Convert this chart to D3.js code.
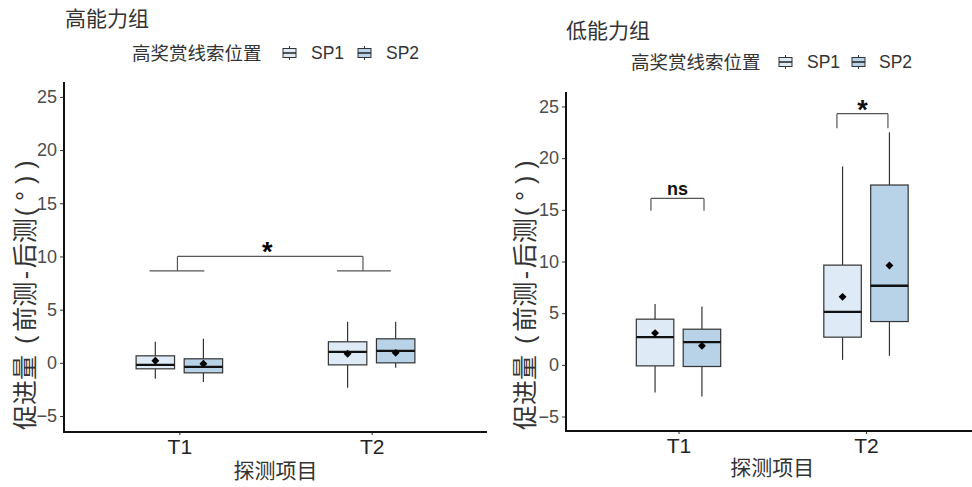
<!DOCTYPE html>
<html>
<head>
<meta charset="utf-8">
<script src="https://cdn.jsdelivr.net/npm/d3@7/dist/d3.min.js"></script>
<style>
  html, body { margin: 0; padding: 0; background: #fff; }
  svg { display: block; }
  .cjk { font-family: "Noto Sans CJK SC", "Noto Sans", sans-serif; }
  .num { font-family: "Liberation Sans", Arial, sans-serif; }
</style>
</head>
<body>
<svg id="chart" width="972" height="487"></svg>
<script>
// Categories
const tests = ["T1", "T2"];
const cues = ["SP1", "SP2"];
const yTicks = [-5, 0, 5, 10, 15, 20, 25];

// Box statistics per test (T1, T2): [lower whisker, Q1, median, Q3, upper whisker, mean]
const highSP1 = [[-1.5, -0.56, -0.19, 0.66, 1.98, 0.19], [-2.35, -0.19, 1.03, 1.98, 3.86, 0.85]];
const highSP2 = [[-1.79, -0.94, -0.38, 0.38, 2.26, -0.09], [-0.47, 0.0, 1.13, 2.26, 3.86, 0.94]];
const lowSP1  = [[-2.68, -0.1, 2.68, 4.42, 5.9, 3.07], [0.48, 2.68, 5.13, 9.65, 19.2, 6.58]];
const lowSP2  = [[-3.07, -0.16, 2.2, 3.45, 5.64, 1.84], [0.87, 4.19, 7.65, 17.4, 22.5, 9.61]];

// Significance annotations (x in test units, y in data units)
// Between-test bracket for the high-ability group: legs sit on short bars under each test
const highBracket = { label: "*", top: 10.0, foot: 8.65,
  bars: [[0.845, 1.13, 0.99], [1.82, 2.10, 1.955]] };
// Within-test brackets for the low-ability group
const lowBrackets = [
  { label: "ns", x0: 0.853, x1: 1.136, top: 16.1, foot: 14.9 },
  { label: "*",  x0: 1.845, x1: 2.117, top: 24.3, foot: 22.9 }
];

// Y-axis title pieces: [text, is CJK, lead offset, letter spacing]
const yTitleParts = [["促进量", true, 0, 0], [" (", false, 0, 4], ["前测", true, 0, 0], ["-", false, 2.5, 2.5],
                     ["后测", true, 0, 0], ["(°))", false, 2, 7]];

const fills = { SP1: "#deebf7", SP2: "#b8d2e8" };
const boxW = 0.2, dodge = 0.125;

const svg = d3.select("#chart");

const panels = [
  { title: "高能力组", titleX: 65, titleY: 26,
    left: 64, right: 487, top: 82, bottom: 432, yDomain: [-6.5, 26.4],
    yTitleX: 25, yTitleY: 430, xTitleY: 478,
    legend: { y: 53, x: [132, 283, 311, 358, 386] },
    series: { SP1: highSP1, SP2: highSP2 } },
  { title: "低能力组", titleX: 566, titleY: 38,
    left: 566, right: 978.5, top: 92, bottom: 431, yDomain: [-6.4, 26.4],
    yTitleX: 525, yTitleY: 430, xTitleY: 475,
    legend: { y: 62, x: [631, 779, 807, 852, 879] },
    series: { SP1: lowSP1, SP2: lowSP2 } }
];

function drawKey(g, x, yc, fill) {
  g.append("line").attr("x1", x + 6.5).attr("x2", x + 6.5)
    .attr("y1", yc - 7).attr("y2", yc + 7).attr("stroke", "#333").attr("stroke-width", 1);
  g.append("rect").attr("x", x).attr("y", yc - 4.5).attr("width", 13).attr("height", 9)
    .attr("fill", fill).attr("stroke", "#333").attr("stroke-width", 1);
  g.append("line").attr("x1", x).attr("x2", x + 13).attr("y1", yc).attr("y2", yc)
    .attr("stroke", "#222").attr("stroke-width", 1.5);
}

panels.forEach((p, pi) => {
  const g = svg.append("g");
  const x = d3.scaleLinear().domain([0.4, 2.6]).range([p.left, p.right]);
  const y = d3.scaleLinear().domain(p.yDomain).range([p.bottom, p.top]);

  // Title
  g.append("text").attr("class", "cjk").attr("x", p.titleX).attr("y", p.titleY)
    .attr("font-size", 21).attr("fill", "#333").text(p.title);

  // Legend
  const L = p.legend;
  g.append("text").attr("class", "cjk").attr("x", L.x[0]).attr("y", L.y)
    .attr("dy", "0.36em").attr("font-size", 18.5).attr("fill", "#333").text("高奖赏线索位置");
  cues.forEach((c, i) => {
    drawKey(g, L.x[1 + i * 2], L.y, fills[c]);
    g.append("text").attr("class", "num").attr("x", L.x[2 + i * 2]).attr("y", L.y)
      .attr("dy", "0.36em").attr("font-size", 17.5).attr("fill", "#333").text(c);
  });

  // Y axis
  const yAxis = d3.axisLeft(y).tickValues(yTicks).tickSize(4).tickPadding(3);
  const ya = g.append("g").attr("transform", `translate(${p.left},0)`).call(yAxis);
  ya.select(".domain").remove();
  ya.selectAll(".tick line").attr("stroke", "#333");
  ya.selectAll(".tick text").attr("class", "num").attr("font-size", 18).attr("fill", "#4d4d4d");

  // X axis
  const xAxis = d3.axisBottom(x).tickValues([1, 2]).tickFormat((d) => tests[d - 1]).tickSize(3).tickPadding(4);
  const xa = g.append("g").attr("transform", `translate(0,${p.bottom})`).call(xAxis);
  xa.select(".domain").remove();
  xa.selectAll(".tick line").attr("stroke", "#333");
  xa.selectAll(".tick text").attr("class", "num").attr("font-size", 21).attr("fill", "#222");

  // Axis lines
  g.append("line").attr("x1", p.left).attr("x2", p.left).attr("y1", p.top).attr("y2", p.bottom + 1)
    .attr("stroke", "#111").attr("stroke-width", 2);
  g.append("line").attr("x1", p.left - 1).attr("x2", p.right).attr("y1", p.bottom).attr("y2", p.bottom)
    .attr("stroke", "#111").attr("stroke-width", 2);

  // Axis titles (y title starts at the bottom and reads upward)
  const yt = g.append("text")
    .attr("transform", `translate(${p.yTitleX},${p.yTitleY}) rotate(-90)`)
    .attr("dy", "0.36em").attr("font-size", 25).attr("fill", "#333");
  yTitleParts.forEach(([t, isCjk, lead, ls]) => {
    yt.append("tspan").attr("class", isCjk ? "cjk" : "num")
      .attr("dx", lead).attr("letter-spacing", ls).text(t);
  });
  g.append("text").attr("class", "cjk").attr("x", (p.left + p.right) / 2).attr("y", p.xTitleY)
    .attr("text-anchor", "middle").attr("font-size", 21).attr("fill", "#333").text("探测项目");

  // Boxes
  cues.forEach((c, ci) => {
    const off = ci === 0 ? -dodge : dodge;
    p.series[c].forEach((s, ti) => {
      const [lo, q1, med, q3, hi, mean] = s;
      const cx = ti + 1 + off;
      const bg = g.append("g");
      bg.append("line").attr("x1", x(cx)).attr("x2", x(cx)).attr("y1", y(hi)).attr("y2", y(q3))
        .attr("stroke", "#333").attr("stroke-width", 1.2);
      bg.append("line").attr("x1", x(cx)).attr("x2", x(cx)).attr("y1", y(q1)).attr("y2", y(lo))
        .attr("stroke", "#333").attr("stroke-width", 1.2);
      bg.append("rect").attr("x", x(cx - boxW / 2)).attr("y", y(q3))
        .attr("width", x(cx + boxW / 2) - x(cx - boxW / 2)).attr("height", y(q1) - y(q3))
        .attr("fill", fills[c]).attr("stroke", "#333").attr("stroke-width", 1.2);
      bg.append("line").attr("x1", x(cx - boxW / 2)).attr("x2", x(cx + boxW / 2))
        .attr("y1", y(med)).attr("y2", y(med)).attr("stroke", "#111").attr("stroke-width", 2.4);
      bg.append("path").attr("d", d3.symbol(d3.symbolDiamond2, 40)())
        .attr("transform", `translate(${x(cx)},${y(mean)})`).attr("fill", "#000");
    });
  });

  // Significance brackets
  const line = (x1, y1, x2, y2) => g.append("line").attr("x1", x1).attr("x2", x2)
    .attr("y1", y1).attr("y2", y2).attr("stroke", "#555").attr("stroke-width", 1.2);
  if (pi === 0) {
    const b = highBracket;
    b.bars.forEach(([a, z, m]) => {
      line(x(a), y(b.foot), x(z), y(b.foot));
      line(x(m), y(b.foot), x(m), y(b.top));
    });
    line(x(b.bars[0][2]), y(b.top), x(b.bars[1][2]), y(b.top));
    g.append("text").attr("class", "num").attr("x", (x(b.bars[0][2]) + x(b.bars[1][2])) / 2 - 3)
      .attr("y", y(b.top) + 5).attr("text-anchor", "middle").attr("font-size", 27)
      .attr("font-weight", "bold").attr("fill", "#000").text(b.label);
  } else {
    lowBrackets.forEach((b) => {
      line(x(b.x0), y(b.top), x(b.x1), y(b.top));
      line(x(b.x0), y(b.top), x(b.x0), y(b.foot));
      line(x(b.x1), y(b.top), x(b.x1), y(b.foot));
      const t = g.append("text").attr("class", "num").attr("x", (x(b.x0) + x(b.x1)) / 2)
        .attr("text-anchor", "middle").attr("fill", "#111").attr("font-weight", "bold").text(b.label);
      if (b.label === "ns") t.attr("y", y(b.top) - 3).attr("font-size", 18);
      else t.attr("y", y(b.top) + 5).attr("font-size", 27);
    });
  }
});
</script>
</body>
</html>
